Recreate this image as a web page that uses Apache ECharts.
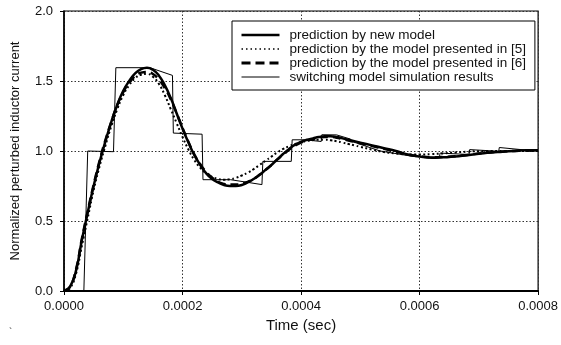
<!DOCTYPE html>
<html>
<head>
<meta charset="utf-8">
<script src="https://cdn.jsdelivr.net/npm/echarts@6/dist/echarts.min.js"></script>
<style>
html,body{margin:0;padding:0;background:#fff;}
#chart{width:561px;height:345px;}
</style>
</head>
<body>
<div id="chart"></div>
<script>
// time samples of the smooth model curves, in microseconds
const timeUs = [0,10,20,30,40,50,60,70,80,90,100,110,120,130,140,150,160,170,180,190,200,210,220,230,240,250,260,270,280,290,300,310,320,330,340,350,360,370,380,390,400,410,420,430,440,450,460,470,480,490,500,520,540,560,580,600,620,640,660,680,700,720,740,760,780,800];

const newModel = [0,0.03,0.14,0.36,0.56,0.75,0.92,1.07,1.21,1.33,1.43,1.50,1.555,1.585,1.595,1.58,1.54,1.47,1.38,1.27,1.16,1.06,0.97,0.90,0.84,0.80,0.775,0.757,0.75,0.75,0.757,0.775,0.80,0.83,0.865,0.90,0.94,0.98,1.015,1.045,1.065,1.08,1.09,1.10,1.105,1.105,1.10,1.09,1.08,1.07,1.06,1.04,1.02,1.0,0.975,0.96,0.952,0.955,0.96,0.97,0.98,0.99,0.995,1.0,1.005,1.005];

const model5 = [0,0.02,0.12,0.32,0.52,0.72,0.89,1.04,1.18,1.30,1.40,1.47,1.52,1.545,1.55,1.53,1.48,1.40,1.30,1.20,1.10,1.01,0.935,0.88,0.84,0.815,0.80,0.795,0.798,0.808,0.825,0.845,0.87,0.90,0.93,0.96,0.99,1.015,1.035,1.05,1.063,1.072,1.078,1.08,1.08,1.077,1.07,1.06,1.05,1.04,1.03,1.01,0.993,0.982,0.976,0.975,0.978,0.983,0.99,0.995,0.999,1.0,1.0,1.0,1.0,1.0];

const model6 = [0,0.03,0.15,0.37,0.57,0.76,0.93,1.08,1.21,1.33,1.42,1.49,1.535,1.56,1.565,1.55,1.51,1.45,1.37,1.27,1.165,1.065,0.975,0.905,0.85,0.81,0.78,0.765,0.76,0.76,0.765,0.78,0.80,0.83,0.865,0.90,0.94,0.975,1.01,1.04,1.06,1.075,1.085,1.095,1.10,1.10,1.095,1.085,1.075,1.065,1.055,1.035,1.015,0.995,0.975,0.962,0.955,0.957,0.962,0.972,0.982,0.99,0.996,1.0,1.003,1.003];

// switching model simulation (staircase) : times in microseconds and values
const switchTimeUs = [0,33.5,40,83.5,87.5,145,183,184.5,233,234.5,281,334,335.5,383.5,385,406,434,435,460,483.5,484.5,533.5,534.5,583.5,584.5,633.5,634.5,683.5,684.5,733.5,734.5,783.5,784.5,800];
const switchValues = [0,0,1.0,0.995,1.595,1.595,1.54,1.128,1.12,0.795,0.795,0.76,0.926,0.926,1.08,1.08,1.068,1.116,1.115,1.085,1.07,1.0,1.0,0.965,0.96,0.955,0.985,0.975,1.01,0.998,1.025,1.005,1.01,1.0];

const xTicks = [0,0.0002,0.0004,0.0006,0.0008];
const yTicks = [0,0.5,1.0,1.5,2.0];

const seriesNames = [
  'prediction by new model',
  'prediction by the model presented in [5]',
  'prediction by the model presented in [6]',
  'switching model simulation results'
];

const pairs = (ts, vs) => ts.map((t, i) => [t * 1e-6, vs[i]]);

const font = 'Liberation Sans, Arial, sans-serif';
const chart = echarts.init(document.getElementById('chart'), null, {renderer: 'canvas'});

chart.setOption({
  animation: false,
  backgroundColor: '#fff',
  color: ['#000', '#000', '#000', '#000'],
  grid: {left: 64, right: 20, top: 11, bottom: 54, show: true, borderColor: '#000', borderWidth: 1.2, backgroundColor: 'transparent'},
  xAxis: {
    type: 'value', min: xTicks[0], max: xTicks[xTicks.length - 1], interval: 0.0002,
    name: 'Time (sec)', nameLocation: 'middle', nameGap: 26,
    nameTextStyle: {fontFamily: font, fontSize: 15, color: '#111', verticalAlign: 'top'},
    axisLine: {lineStyle: {color: '#000', width: 2}},
    axisTick: {show: true, length: 4, lineStyle: {color: '#000'}},
    axisLabel: {fontFamily: font, fontSize: 13, color: '#111', margin: 9, formatter: v => v.toFixed(4)},
    splitLine: {show: true, lineStyle: {type: [1.5, 2], color: '#333', width: 1}}
  },
  yAxis: {
    type: 'value', min: yTicks[0], max: yTicks[yTicks.length - 1], interval: 0.5,
    name: 'Normalized perturbed inductor current', nameLocation: 'middle', nameGap: 42,
    nameTextStyle: {fontFamily: font, fontSize: 13, color: '#111'},
    axisLine: {lineStyle: {color: '#000', width: 1.5}},
    axisTick: {show: true, length: 4, lineStyle: {color: '#000'}},
    axisLabel: {fontFamily: font, fontSize: 13, color: '#111', margin: 11, formatter: v => v.toFixed(1)},
    splitLine: {show: true, lineStyle: {type: [1.5, 2], color: '#333', width: 1}}
  },
  legend: {
    orient: 'vertical', left: 232, top: 21,
    data: [
      {name: seriesNames[0], lineStyle: {width: 2.5}},
      {name: seriesNames[1], lineStyle: {width: 1.5, type: [1.5, 3]}},
      {name: seriesNames[2], lineStyle: {width: 3, type: [9, 5]}},
      {name: seriesNames[3], lineStyle: {width: 1}}
    ],
    backgroundColor: '#fff', borderColor: '#000', borderWidth: 1, borderRadius: 0,
    padding: [7, 9, 6, 8],
    itemWidth: 38, itemHeight: 14, itemGap: 0,
    itemStyle: {opacity: 0},
    textStyle: {fontFamily: font, fontSize: 13.5, color: '#111', lineHeight: 14, padding: [0, 0, 0, 5]}
  },
  series: [
    {name: seriesNames[3], type: 'line', data: pairs(switchTimeUs, switchValues), symbol: 'none',
      itemStyle: {color: '#000'}, lineStyle: {color: '#000', width: 1}, z: 3},
    {name: seriesNames[1], type: 'line', data: pairs(timeUs, model5), symbol: 'none', smooth: 0.5,
      itemStyle: {color: '#000'}, lineStyle: {color: '#000', width: 2, type: [2, 2.5]}, z: 4},
    {name: seriesNames[2], type: 'line', data: pairs(timeUs, model6), symbol: 'none', smooth: 0.5,
      itemStyle: {color: '#000'}, lineStyle: {color: '#000', width: 2.5, type: [8, 5]}, z: 5},
    {name: seriesNames[0], type: 'line', data: pairs(timeUs, newModel), symbol: 'none', smooth: 0.5,
      itemStyle: {color: '#000'}, lineStyle: {color: '#000', width: 2.5}, z: 6}
  ],
  graphic: [
    {type: 'text', left: 9, top: 328, style: {text: '`', fontFamily: font, fontSize: 10, fill: '#333'}}
  ]
});
</script>
</body>
</html>
